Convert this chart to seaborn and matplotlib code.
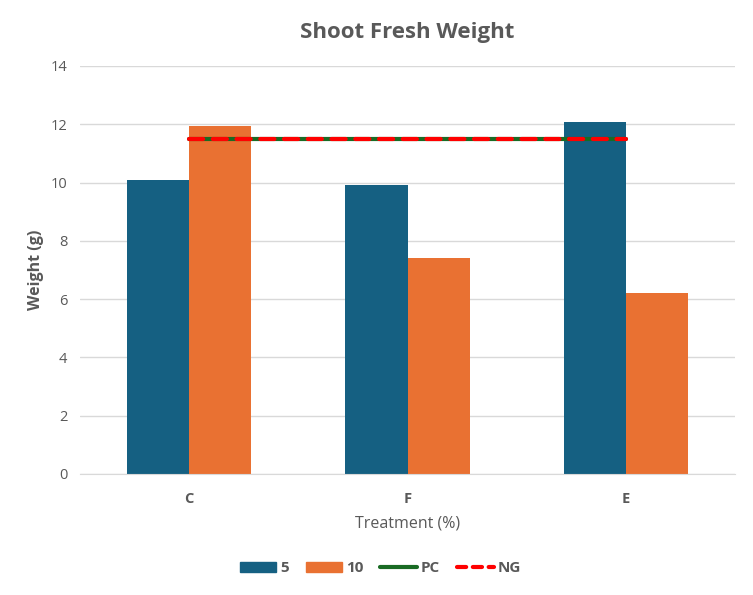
import pandas as pd
import matplotlib.pyplot as plt
import seaborn as sns
from matplotlib.patches import Patch
from matplotlib.lines import Line2D

# values
treatments = ['C', 'F', 'E']
conc_5 = [10.1, 9.92, 12.08]
conc_10 = [11.95, 7.42, 6.22]
pc_line = [11.5, 11.5, 11.5]
ng_line = [11.5, 11.5, 11.5]

df = pd.DataFrame({
    'Treatment': treatments * 2,
    'Weight': conc_5 + conc_10,
    'Conc': ['5'] * 3 + ['10'] * 3,
})

sns.set_style('white')
plt.rcParams['font.family'] = ['Open Sans', 'DejaVu Sans']

grey = '#595959'
dash = (0, (3.4, 2.3))
fig = plt.figure(figsize=(7.53, 5.95), dpi=100)
ax = fig.add_axes([0.1062, 0.2034, 0.870, 0.6857])

sns.barplot(data=df, x='Treatment', y='Weight', hue='Conc', order=treatments,
            hue_order=['5', '10'], palette=['#156082', '#E97132'],
            width=0.57, saturation=1, linewidth=0, ax=ax, legend=False, zorder=2)

xs = list(range(len(treatments)))
sns.lineplot(x=xs, y=pc_line, color='#196B24', linewidth=3, ax=ax, zorder=3)
sns.lineplot(x=xs, y=ng_line, color='#FF0000', linewidth=3, dashes=False,
             linestyle=dash, dash_capstyle='round', ax=ax, zorder=4)

ax.set_ylim(0, 14)
ax.set_xlim(-0.5, 2.5)
ax.set_yticks(range(0, 15, 2))
ax.yaxis.grid(True, color='#d9d9d9', linewidth=1)
ax.set_axisbelow(True)
for s in ['top', 'right', 'left']:
    ax.spines[s].set_visible(False)
ax.spines['bottom'].set_color('#d9d9d9')
ax.tick_params(axis='both', length=0, colors=grey, labelsize=10.5)
ax.tick_params(axis='y', pad=9)
ax.tick_params(axis='x', pad=13)
for lbl in ax.get_xticklabels():
    lbl.set_fontweight('bold')

ax.set_title('Shoot Fresh Weight', fontsize=16, fontweight='bold', color=grey, pad=20)
ax.set_ylabel('Weight (g)', fontsize=11.5, fontweight='bold', color=grey, labelpad=5)
ax.set_xlabel('Treatment (%)', fontsize=11.5, color=grey, labelpad=7)

handles = [
    Patch(color='#156082'),
    Patch(color='#E97132'),
    Line2D([], [], color='#196B24', linewidth=3),
    Line2D([], [], color='#FF0000', linewidth=3, linestyle=(0, (2.2, 1.6)),
           dash_capstyle='round'),
]
leg = fig.legend(handles, ['5', '10', 'PC', 'NG'], loc='center', bbox_to_anchor=(0.505, 0.045),
                 ncol=4, frameon=False, handlelength=2.4, handleheight=0.6,
                 handletextpad=0.25, columnspacing=1.1,
                 prop={'weight': 'bold', 'size': 11})
for t in leg.get_texts():
    t.set_color(grey)

fig.savefig('out.png', dpi=100)
